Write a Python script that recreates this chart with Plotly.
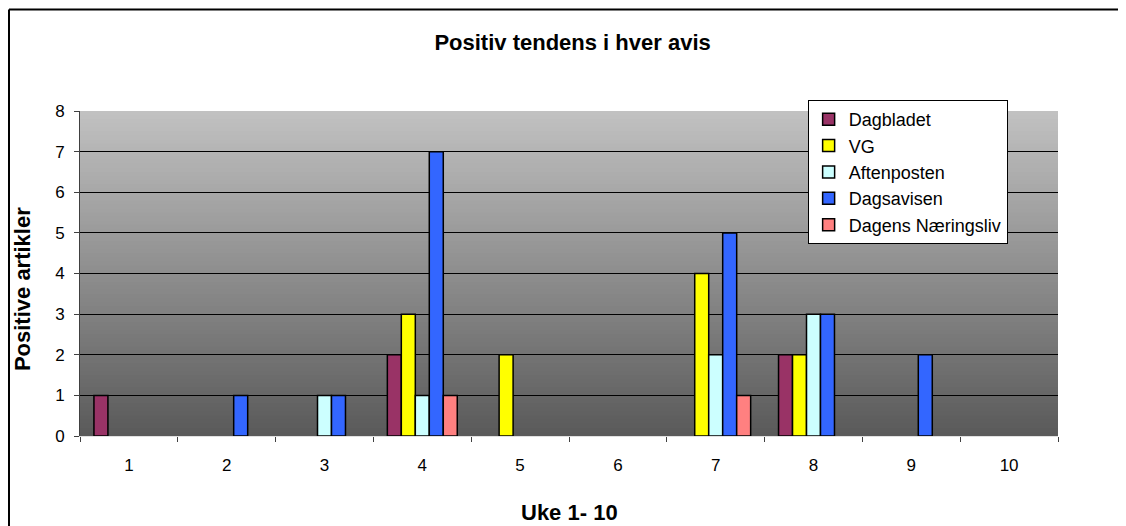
import plotly.graph_objects as go

weeks = ['1', '2', '3', '4', '5', '6', '7', '8', '9', '10']
dagbladet = [1, 0, 0, 2, 0, 0, 0, 2, 0, 0]
vg = [0, 0, 0, 3, 2, 0, 4, 2, 0, 0]
aftenposten = [0, 0, 1, 1, 0, 0, 2, 3, 0, 0]
dagsavisen = [0, 1, 1, 7, 0, 0, 5, 3, 2, 0]
dagens_naeringsliv = [0, 0, 0, 1, 0, 0, 1, 0, 0, 0]

series = [
    ('Dagbladet', dagbladet, '#993366'),
    ('VG', vg, '#FFFF00'),
    ('Aftenposten', aftenposten, '#CCFFFF'),
    ('Dagsavisen', dagsavisen, '#3366FF'),
    ('Dagens Næringsliv', dagens_naeringsliv, '#FF8080'),
]

fig = go.Figure()
for name, vals, col in series:
    fig.add_trace(go.Bar(x=weeks,
                         y=[v if v else None for v in vals],
                         name=name,
                         marker=dict(color=col, line=dict(color='black', width=1.5))))

# gradient plot background (light grey at top, dark grey at bottom)
steps = 80
shapes = []
for i in range(steps):
    t = (i + 0.5) / steps
    c = int(90 + (194 - 90) * t)
    top = min(8, 8 * (i + 1.6) / steps)  # overlap to hide seams
    shapes.append(dict(type='rect', xref='x domain', yref='y',
                       x0=0, x1=1, y0=8 * i / steps, y1=top,
                       fillcolor='rgb(%d,%d,%d)' % (c, c, c),
                       line=dict(width=0), layer='below'))
# outer chart border (left and top edges only)
shapes.append(dict(type='line', xref='paper', yref='paper',
                   x0=-0.0726, x1=-0.0726, y0=-0.3, y1=1.3123,
                   line=dict(color='black', width=2)))
shapes.append(dict(type='line', xref='paper', yref='paper',
                   x0=-0.0726, x1=1.08, y0=1.3123, y1=1.3123,
                   line=dict(color='black', width=2)))

fig.update_layout(
    width=1118, height=518,
    margin=dict(l=72, r=68, t=103, b=90),
    paper_bgcolor='white',
    plot_bgcolor='#5c5c5c',
    font=dict(family='Liberation Sans, Arial, sans-serif', size=17, color='black'),
    title=dict(text='<b>Positiv tendens i hver avis</b>', x=0.505, xanchor='center',
               y=0.934, yanchor='middle', font=dict(size=22)),
    barmode='group', bargap=0.285, bargroupgap=0,
    showlegend=True,
    legend=dict(x=0.744, y=1.034, xanchor='left', yanchor='top',
                bgcolor='white', bordercolor='black', borderwidth=1,
                font=dict(size=18), tracegroupgap=0, itemwidth=30),
    shapes=shapes,
    annotations=[
        dict(text='<b>Uke 1- 10</b>', xref='paper', yref='paper', x=0.501, y=-0.234,
             showarrow=False, xanchor='center', yanchor='middle', font=dict(size=22)),
        dict(text='<b>Positive artikler</b>', xref='paper', yref='paper', x=-0.0593, y=0.452,
             showarrow=False, xanchor='center', yanchor='middle', textangle=-90,
             font=dict(size=22)),
    ],
)
fig.update_xaxes(tickson='boundaries', ticks='outside', ticklen=5, ticklabelstandoff=14,
                 tickcolor='#404040', showline=True, linecolor='#e0e0e0',
                 showgrid=False)
fig.update_yaxes(range=[0, 8], dtick=1, ticks='outside', ticklen=5, ticklabelstandoff=6,
                 tickcolor='#404040', showline=True, linecolor='#404040',
                 showgrid=True, gridcolor='black', gridwidth=1, zeroline=False)

fig.write_html("out.html")
